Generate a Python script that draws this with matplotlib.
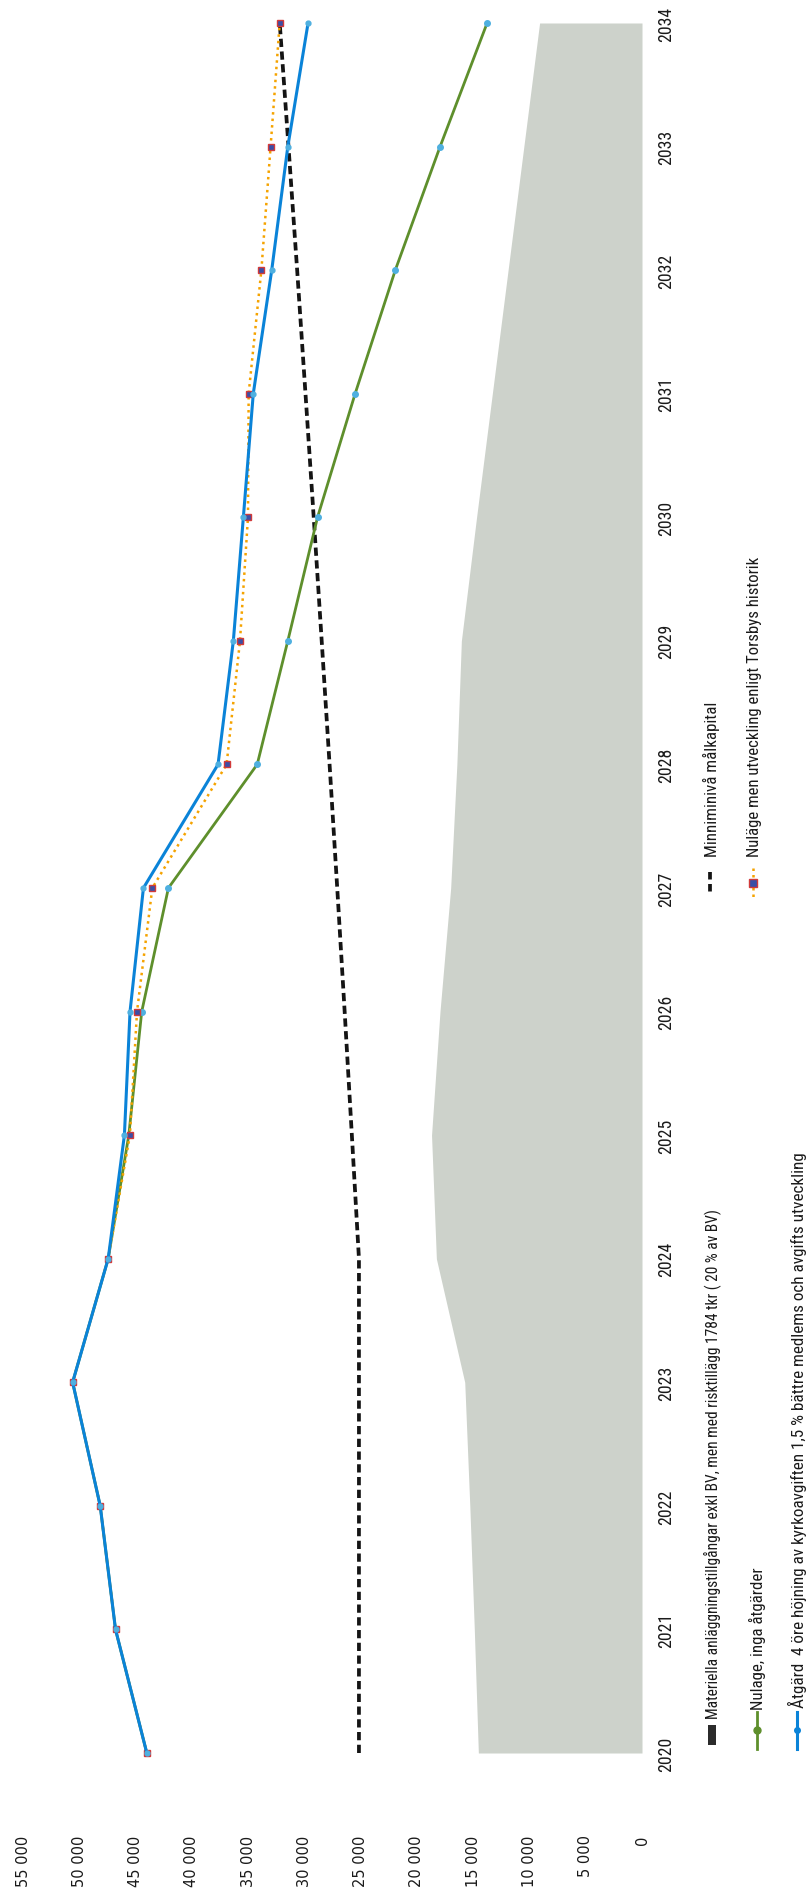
import matplotlib
matplotlib.use("Agg")
import matplotlib.pyplot as plt
from matplotlib import font_manager
from matplotlib.font_manager import FontProperties
from matplotlib.patches import Rectangle

# ---------------- data ----------------
years = list(range(2020, 2035))
year_labels = [str(y) for y in years]

materiella = [14540, 14900, 15300, 15750, 18270, 18700, 17950, 17000, 16450,
              16050, 14700, 13300, 11900, 10500, 9100]
miniminiva = [25150, 25150, 25150, 25150, 25150, 25780, 26420, 27080, 27760,
              28460, 29170, 29900, 30640, 31410, 32190]
nulage = [44000, 46780, 48140, 50590, 47430, 45600, 44450, 42080, 34190,
          31470, 28830, 25490, 21920, 17940, 13760]
nulage_hist = [44000, 46780, 48140, 50590, 47430, 45500, 44870, 43510, 36910,
               35720, 35010, 34950, 33820, 33000, 32190]
atgard = [44000, 46780, 48140, 50590, 47430, 45990, 45490, 44300, 37670,
          36310, 35420, 34540, 32900, 31470, 29670]

value_ticks = [0, 5000, 10000, 15000, 20000, 25000, 30000, 35000, 40000,
               45000, 50000, 55000]
value_tick_labels = ["0", "5 000", "10 000", "15 000", "20 000", "25 000",
                     "30 000", "35 000", "40 000", "45 000", "50 000", "55 000"]

lbl_materiella = "Materiella anläggningstillgångar exkl BV, men med risktillägg 1784 tkr ( 20 % av BV)"
lbl_minimi = "Minniminivå målkapital"
lbl_nulage = "Nulage, inga åtgärder"
lbl_hist = "Nuläge men utveckling enligt Torsbys historik"
lbl_atgard = "Åtgärd  4 öre höjning av kyrkoavgiften 1,5 % bättre medlems och avgifts utveckling"


# ---------------- fonts ----------------
def pick_narrow():
    fl = font_manager.fontManager.ttflist

    def regular(f):
        return f.style == "normal" and str(f.weight) in ("400", "normal", "regular", "book")

    prefs = ["Liberation Sans Narrow", "Arial Narrow", "Roboto Condensed",
             "Open Sans Condensed", "Noto Sans Condensed", "DejaVu Sans Condensed",
             "Noto Sans Display Condensed"]
    for p in prefs:
        for f in fl:
            if f.name == p and regular(f):
                return f.fname
    for f in fl:
        st = str(f.stretch).lower()
        if regular(f) and ("condensed" in st or "narrow" in f.name.lower()
                           or "condensed" in f.name.lower()) \
                and "mono" not in f.name.lower() and "serif" not in f.name.lower():
            return f.fname
    return None


NARROW_FILE = pick_narrow()


def narrow(size):
    if NARROW_FILE:
        return FontProperties(fname=NARROW_FILE, size=size)
    return FontProperties(family="Liberation Sans", size=size)


C_GREY = "#cdd2cb"
C_BLACK = "#141414"
C_GREEN = "#5e8f2c"
C_ORANGE = "#f5a300"
C_BLUE = "#0a83d8"
C_LBLUE = "#4fb0e0"
C_TEXT = "#1a1a1a"

W, H = 808, 1899
fig = plt.figure(figsize=(W / 100, H / 100), dpi=100)

# main axes (rotated chart: values horizontal, inverted; years vertical)
ax_left, ax_right = 23, 642
ax_top, ax_bottom = 0, 1834
ax = fig.add_axes([ax_left / W, (H - ax_bottom) / H, (ax_right - ax_left) / W,
                   (ax_bottom - ax_top) / H])
ax.set_xlim(55000, 0)
y2020, y2034 = 1754, 24
per = (y2020 - y2034) / 14.0
ax.set_ylim(2020 - (ax_bottom - y2020) / per, 2034 + (y2034 - ax_top) / per)

ax.fill_betweenx(years, 0, materiella, color=C_GREY, lw=0, zorder=1)
ax.plot(miniminiva, years, color=C_BLACK, lw=2.7, dashes=(2.2, 1.2), zorder=2)
ax.plot(nulage, years, color=C_GREEN, lw=2.0, marker="o", ms=4,
        mfc=C_LBLUE, mec=C_LBLUE, zorder=3)
ax.plot(nulage_hist, years, color=C_ORANGE, lw=1.8, ls=(0, (1, 1.6)),
        marker="s", ms=5, mfc="#3a4fa6", mec="#d23a3a", mew=1.0, zorder=4)
ax.plot(atgard, years, color=C_BLUE, lw=2.2, marker="o", ms=3.5,
        mfc=C_LBLUE, mec=C_LBLUE, zorder=5)

for s in ax.spines.values():
    s.set_visible(False)
ax.patch.set_alpha(0)

fig.canvas.draw()
renderer = fig.canvas.get_renderer()


def measure(s, fp):
    t = fig.text(0, 0, s, rotation=90, fontproperties=fp)
    L = t.get_window_extent(renderer=renderer).height
    t.remove()
    return L


# value ticks (bottom, rotated)
ax.set_xticks(value_ticks)
ax.set_xticklabels(value_tick_labels, rotation=90, fontsize=10.5,
                   family="DejaVu Sans", color=C_TEXT)
ax.tick_params(axis="x", length=0, pad=1)

# year ticks on the right
fs_year = 10 * 34.5 / measure("2020", narrow(10))
ax.set_yticks(years)
ax.yaxis.tick_right()
ax.set_yticklabels(year_labels, rotation=90, color=C_TEXT,
                   fontproperties=narrow(fs_year))
for t in ax.get_yticklabels():
    t.set_va("center")
ax.tick_params(axis="y", length=0, pad=11)

# legend overlay in pixel coordinates
ov = fig.add_axes([0, 0, 1, 1])
ov.set_xlim(0, W)
ov.set_ylim(H, 0)
ov.axis("off")
ov.patch.set_alpha(0)


def legend_text(x, y_start, s, length):
    fs = 10 * length / measure(s, narrow(10))
    ov.text(x, y_start, s, rotation=90, ha="center", va="bottom",
            color=C_TEXT, fontproperties=narrow(fs))


# handles
ov.add_patch(Rectangle((708, 1726), 8, 20, color="#2b2b2b", lw=0))
ov.plot([710, 710], [873, 895], color=C_BLACK, lw=2.7, dashes=(2.0, 1.2))
ov.plot([757, 757], [1713, 1750], color=C_GREEN, lw=2.0)
ov.plot([757], [1731], marker="o", ms=5, color=C_GREEN)
ov.plot([753, 753], [869, 900], color=C_ORANGE, lw=1.8, ls=(0, (1, 1.6)))
ov.plot([753], [884], marker="s", ms=5.5, mfc="#3a4fa6", mec="#d23a3a", mew=1.0)
ov.plot([797, 797], [1713, 1750], color=C_BLUE, lw=2.2)
ov.plot([797], [1731], marker="o", ms=4, color=C_BLUE)

legend_text(712, 1719, lbl_materiella, 510)
legend_text(757, 1710, lbl_nulage, 142)
legend_text(797, 1708, lbl_atgard, 551)
legend_text(711, 857, lbl_minimi, 155)
legend_text(754, 857, lbl_hist, 300)

fig.savefig("out.png", dpi=100)
